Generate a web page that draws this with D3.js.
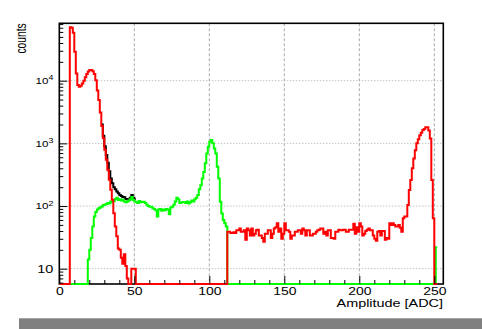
<!DOCTYPE html>
<html><head><meta charset="utf-8">
<script src="https://cdn.jsdelivr.net/npm/d3@7"></script>
<style>html,body{margin:0;padding:0;background:#fff;}svg{display:block;}</style>
</head><body>
<svg id="chart" width="482" height="329"></svg>
<script>
// ---- data (ADC bins of width 1) ----
const nBins = 252;
const redPeakStart = 7;
const redPeakValues = [
  71000, 70000, 58000, 29000, 13000, 8500, 8000, 8300, 9000, 10000,
  11400, 12800, 14000, 14800, 14800, 14200, 12800, 10200, 7000, 4900,
  3100, 1900, 1220, 790, 547, 379, 263, 182, 126, 77,
  47, 33, 21, 20, 15, 12, 17, 11, 7, 0,
  0, 10, 10, 10
];
const redPlateauStart = 112;
const redPlateauValues = [
  39,39,37,37,38,37,41,41,44,39,
  39,41,29,44,41,34,44,34,36,41,
  42,34,34,31,27,36,36,41,41,31,
  36,44,46,53,39,44,30,36,53,41,
  41,39,30,34,34,39,39,41,41,36,
  44,41,34,41,41,34,34,36,36,39,
  41,42,44,44,36,39,34,41,41,31,
  31,30,39,39,42,41,41,42,42,39,
  39,42,42,42,52,36,46,39,53,47,
  34,36,40,42,44,41,41,34,30,28,
  39,40,34,40,40,29,31,30,53,50,
  53,50,47,47,50,45,39,64,68,68,
  104,180,260,400,575,780,1000,1160,1350,1480,
  1630,1700,1800,1800,1600,1200,260,64
];
const greenStart = 19;
const greenValues = [
  14, 20, 31, 47, 68, 80, 88, 92, 95, 98,
  104, 105, 108, 112, 110, 118, 115, 120, 130, 135,
  125, 128, 122, 126, 118, 115, 118, 122, 128, 140,
  125, 118, 115, 112, 120, 115, 116, 117, 112, 105,
  100, 97, 97, 92, 90, 86, 68, 88, 90, 84,
  88, 86, 90, 88, 74, 95, 97, 105, 118, 135,
  128, 112, 114, 116, 115, 112, 118, 110, 115, 122,
  118, 128, 135, 150, 185, 215, 275, 350, 480, 690,
  885, 1060, 1130, 1000, 830, 690, 425, 275, 117, 76,
  60, 53, 47
];
const greenEdgeBin = 251;
const greenEdgeValue = 22;
const blackStart = 28;
const blackValues = [
  2000, 1320, 900, 650, 490, 360, 275, 232, 200, 185,
  170, 160, 150, 145, 140, 138, 130, 128, 126, 135,
  150, 135, 128
];
const xTickValues = [0, 50, 100, 150, 200, 250];
const xTickLabels = ["0", "50", "100", "150", "200", "250"];
const yTickValues = [10, 100, 1000, 10000];
const yTickExps = ["", "2", "3", "4"];
const xTitle = "Amplitude [ADC]";
const yTitle = "counts";

// ---- build full histograms ----
const red = new Array(nBins).fill(0);
redPeakValues.forEach((v, i) => red[redPeakStart + i] = v);
redPlateauValues.forEach((v, i) => red[redPlateauStart + i] = v);
const green = new Array(nBins).fill(0);
greenValues.forEach((v, i) => green[greenStart + i] = v);
green[greenEdgeBin] = greenEdgeValue;

// ---- layout ----
const L = 59.3, R = 443.3, T = 23.3, B = 284;
const yMin = 5.7, yMax = 82400;
const FONT = "'Liberation Sans', Arial, Helvetica, sans-serif";
const SX = 1.4;

const svg = d3.select("#chart");
const x = d3.scaleLinear().domain([0, 256]).range([L, R]);
const y = d3.scaleLog().domain([yMin, yMax]).range([B, T]);

// grid
const grid = svg.append("g");
grid.selectAll("line.h").data(yTickValues).join("line")
  .attr("x1", L).attr("x2", R).attr("y1", d => y(d)).attr("y2", d => y(d))
  .attr("stroke", "#a8a8a8").attr("stroke-width", 1).attr("stroke-dasharray", "1,2");
grid.selectAll("line.v").data(xTickValues.filter(d => d > 0)).join("line")
  .attr("x1", d => x(d)).attr("x2", d => x(d)).attr("y1", T).attr("y2", B)
  .attr("stroke", "#a8a8a8").attr("stroke-width", 1).attr("stroke-dasharray", "3,2");

// frame
svg.append("rect").attr("x", L).attr("y", T).attr("width", R - L).attr("height", B - T)
  .attr("fill", "none").attr("stroke", "#000").attr("stroke-width", 1.6);

// clip
svg.append("clipPath").attr("id", "clip").append("rect")
  .attr("x", L).attr("y", T).attr("width", R - L).attr("height", B - T + 1.2);

function histPath(vals, start) {
  const pts = [];
  vals.forEach((v, i) => {
    const b = start + i;
    const yy = y(Math.max(v, yMin));
    pts.push([x(b), yy], [x(b + 1), yy]);
  });
  return d3.line()(pts);
}
const hg = svg.append("g").attr("clip-path", "url(#clip)");
hg.append("path").attr("d", histPath(blackValues, blackStart))
  .attr("fill", "none").attr("stroke", "#000").attr("stroke-width", 2);
hg.append("path").attr("d", histPath(green, 0))
  .attr("fill", "none").attr("stroke", "#00ff00").attr("stroke-width", 2);
hg.append("path").attr("d", histPath(red, 0))
  .attr("fill", "none").attr("stroke", "#ff0000").attr("stroke-width", 2);

// x axis ticks (inward)
const xMinor = d3.range(10, 256, 10).filter(d => d % 50 !== 0);
const xMajAx = svg.append("g").attr("transform", `translate(0,${B})`)
  .call(d3.axisBottom(x).tickValues(xTickValues).tickSize(-8).tickSizeOuter(0)
    .tickFormat((d, i) => xTickLabels[i]));
xMajAx.select(".domain").remove();
xMajAx.selectAll("line").attr("stroke", "#000").attr("stroke-width", 1);
xMajAx.selectAll("text")
  .attr("y", 0).attr("dy", null)
  .attr("transform", `translate(0,10.6) scale(${SX},1)`)
  .attr("font-family", FONT).attr("font-size", 10).attr("fill", "#000");
const xMinAx = svg.append("g").attr("transform", `translate(0,${B})`)
  .call(d3.axisBottom(x).tickValues(xMinor).tickSize(-4).tickSizeOuter(0).tickFormat(""));
xMinAx.select(".domain").remove();
xMinAx.selectAll("line").attr("stroke", "#000").attr("stroke-width", 1);

// y axis ticks (inward)
const yMinor = [];
[1, 10, 100, 1000, 10000].forEach(dec => {
  for (let m = 2; m <= 9; m++) { const v = dec * m; if (v >= yMin && v <= yMax) yMinor.push(v); }
});
const yMajAx = svg.append("g").attr("transform", `translate(${L},0)`)
  .call(d3.axisLeft(y).tickValues(yTickValues).tickSize(-8).tickSizeOuter(0).tickFormat(""));
yMajAx.select(".domain").remove();
yMajAx.selectAll("line").attr("stroke", "#000").attr("stroke-width", 1);
const yMinAx = svg.append("g").attr("transform", `translate(${L},0)`)
  .call(d3.axisLeft(y).tickValues(yMinor).tickSize(-4).tickSizeOuter(0).tickFormat(""));
yMinAx.select(".domain").remove();
yMinAx.selectAll("line").attr("stroke", "#000").attr("stroke-width", 1);

// y tick labels
yTickValues.forEach((t, i) => {
  const exp = yTickExps[i];
  const txt = svg.append("text")
    .attr("text-anchor", "end").attr("font-family", FONT).attr("fill", "#000");
  if (exp === "") {
    txt.attr("transform", `translate(53.3,${y(t) + 4.3}) scale(${SX},1)`)
      .attr("font-size", 10.3).text("10");
  } else {
    txt.attr("transform", `translate(53.3,${y(t) + 3.4}) scale(${SX},1)`);
    txt.append("tspan").attr("font-size", 8.3).text("10");
    txt.append("tspan").attr("font-size", 6.3).attr("dy", -3.8).text(exp);
  }
});

// axis titles
svg.append("text").attr("text-anchor", "end")
  .attr("transform", `translate(443,306.6) scale(${SX},1)`)
  .attr("font-family", FONT).attr("font-size", 10.3).attr("fill", "#000").text(xTitle);
svg.append("text").attr("text-anchor", "end")
  .attr("transform", `translate(26,23.3) rotate(-90) scale(1,${SX})`)
  .attr("font-family", FONT).attr("font-size", 10.3).attr("fill", "#000").text(yTitle);

// bottom grey band
svg.append("rect").attr("x", 19).attr("y", 318.3).attr("width", 463).attr("height", 11)
  .attr("fill", "#808080");
</script>
</body></html>
